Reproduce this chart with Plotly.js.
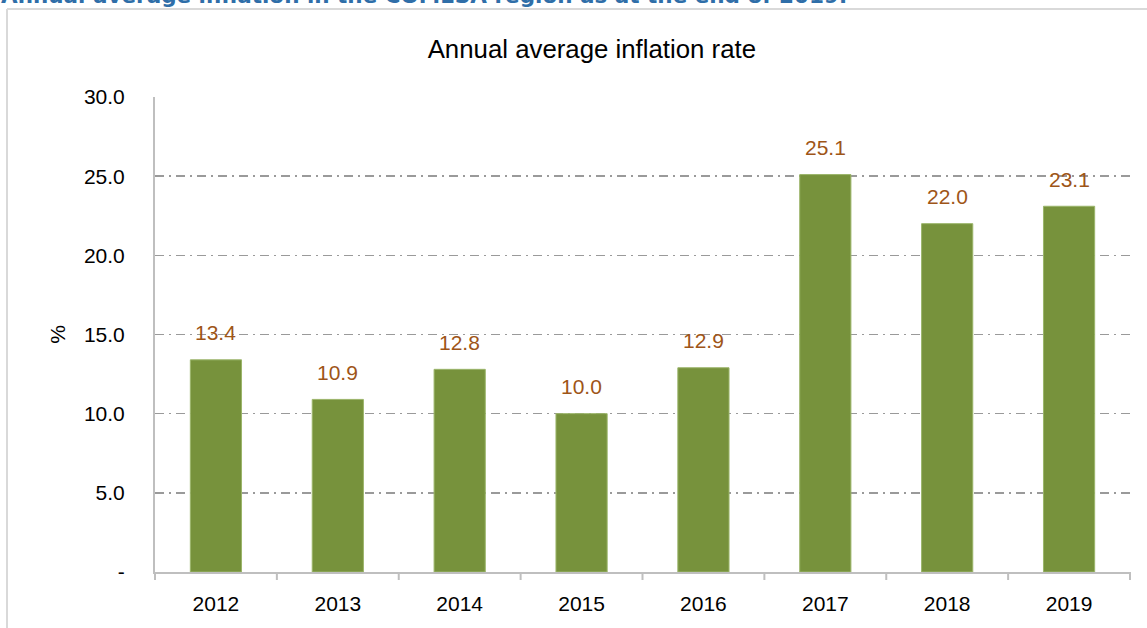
<!DOCTYPE html>
<html>
<head>
<meta charset="utf-8">
<script src="https://cdn.plot.ly/plotly-3.0.1.min.js"></script>
<style>
html,body{margin:0;padding:0;background:#fff;}
#chart{width:1147px;height:628px;}
</style>
</head>
<body>
<div id="chart"></div>
<script>
const years = ["2012","2013","2014","2015","2016","2017","2018","2019"];
const inflation = [13.4, 10.9, 12.8, 10.0, 12.9, 25.1, 22.0, 23.1];
const labels = ["13.4","10.9","12.8","10.0","12.9","25.1","22.0","23.1"];
const yTickVals = [0, 5, 10, 15, 20, 25, 30];
const yTickText = ["-", "5.0", "10.0", "15.0", "20.0", "25.0", "30.0"];
const chartTitle = "Annual average inflation rate";
const headerText = "Annual average inflation in the COMESA region as at the end of 2019.";

const L = 155, R = 17, T = 97, B = 56, W = 1147, H = 628;
const pw = W - L - R, ph = H - T - B;
const px = x => (x - L) / pw;
const py = y => (H - B - y) / ph;

const annotations = years.map((yr, i) => ({
  x: i, y: inflation[i], xref: 'x', yref: 'y',
  text: labels[i], showarrow: false,
  yanchor: 'middle', yshift: 27,
  font: {family: 'Liberation Sans, Arial, sans-serif', size: 21, color: '#9E5518'}
}));
annotations.push({
  x: px(-1), y: py(10), xref: 'paper', yref: 'paper',
  xanchor: 'left', yanchor: 'bottom', showarrow: false,
  text: '<b>' + headerText + '</b>',
  font: {family: 'DejaVu Sans, Verdana, sans-serif', size: 21.5, color: '#2F6EA8'}
});

const data = [{
  type: 'bar', x: years, y: inflation,
  marker: {color: '#77923C', line: {color: '#9BB56A', width: 1}},
  width: 0.42, hoverinfo: 'none'
}];

const layout = {
  width: W, height: H,
  margin: {l: L, r: R, t: T, b: B, pad: 0},
  paper_bgcolor: '#fff', plot_bgcolor: '#fff',
  showlegend: false,
  title: {text: chartTitle, x: 0.516, xanchor: 'center', y: 1 - 49/H, yanchor: 'middle',
          font: {family: 'Liberation Sans, Arial, sans-serif', size: 25.8, color: '#000'}},
  font: {family: 'Liberation Sans, Arial, sans-serif', size: 20, color: '#000'},
  xaxis: {
    type: 'category', range: [-0.5, years.length - 0.5], autorange: false,
    showgrid: false, showline: true, linecolor: '#BFBFBF', linewidth: 2,
    ticks: '', ticklabelstandoff: 12, tickfont: {size: 21, color: '#000'}, fixedrange: true
  },
  yaxis: {
    range: [0, 30], autorange: false, tickvals: yTickVals, ticktext: yTickText,
    showgrid: true, gridcolor: '#9A9A9A', griddash: '9px,5px,2px,5px', gridwidth: 1.5,
    zeroline: false, showline: true, linecolor: '#BFBFBF', linewidth: 2,
    ticks: '', ticklabelstandoff: 24, tickfont: {size: 21, color: '#000'},
    title: {text: '%', standoff: 13, font: {size: 21, color: '#000'}}, fixedrange: true
  },
  annotations: annotations,
  shapes: [
    {type: 'line', xref: 'paper', yref: 'paper', x0: px(7), x1: px(W + 5), y0: py(9), y1: py(9),
     line: {color: '#D9D9D9', width: 2}},
    {type: 'line', xref: 'paper', yref: 'paper', x0: px(7), x1: px(7), y0: py(9), y1: py(H + 5),
     line: {color: '#D9D9D9', width: 2}}
  ].concat(years.concat(['end']).map((_, i) => ({
    type: 'line', xref: 'paper', yref: 'paper',
    x0: i / years.length, x1: i / years.length, y0: 0, y1: py(H - B + 8),
    line: {color: '#BFBFBF', width: 2}
  })))
};

Plotly.newPlot('chart', data, layout, {staticPlot: true, displayModeBar: false});
</script>
</body>
</html>
